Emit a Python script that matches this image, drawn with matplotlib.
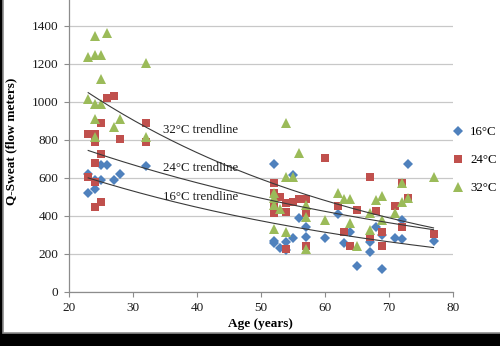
import numpy as np
import matplotlib
matplotlib.use("Agg")
import matplotlib.pyplot as plt
from matplotlib.patches import Rectangle

plt.rcParams['font.family'] = ['Liberation Serif', 'DejaVu Serif']

# Sweat output by age at three chamber temperatures
age_16 = [23, 23, 24, 24, 25, 25, 26, 27, 28, 32,
          52, 52, 52, 53, 54, 54, 55, 55, 56, 57, 57, 60, 62, 63, 64, 65,
          67, 67, 68, 69, 69, 71, 72, 72, 73, 77]
q_16 = [620, 520, 590, 540, 590, 665, 665, 590, 620, 660,
        670, 267, 255, 228, 263, 220, 614, 281, 386, 342, 290, 281, 407, 255, 312, 135,
        260, 207, 339, 298, 118, 281, 276, 377, 670, 267]

age_24 = [23, 24, 24, 25, 26, 27, 28, 32, 32, 25, 24, 23, 24, 24, 25,
          52, 52, 52, 52, 53, 54, 54, 54, 55, 56, 57, 57, 57, 60, 62, 63, 64, 65,
          67, 67, 68, 69, 69, 71, 72, 72, 73, 77]
q_24 = [830, 830, 790, 886, 1021, 1030, 804, 886, 790, 723, 676, 605, 575, 447, 474,
        570, 521, 456, 413, 500, 465, 421, 225, 474, 486, 486, 413, 240, 705, 451, 316, 240, 430,
        605, 290, 425, 316, 240, 453, 570, 342, 491, 304]

age_32 = [23, 24, 26, 24, 25, 25, 23, 24, 25, 24, 28, 27, 24, 32, 32,
          52, 52, 52, 52, 53, 54, 54, 54, 55, 56, 57, 57, 57, 60, 62, 63, 64, 64, 65,
          67, 67, 68, 69, 69, 71, 72, 72, 73, 77]
q_32 = [1234, 1345, 1360, 1246, 1246, 1120, 1013, 988, 988, 909, 909, 865, 813, 813, 1205,
        518, 491, 456, 328, 434, 886, 605, 316, 605, 732, 456, 395, 223, 377, 521, 486, 486, 363, 240,
        412, 325, 483, 504, 377, 412, 570, 470, 491, 602]

series_labels = ['16°C', '24°C', '32°C']
trend_labels = ['16°C trendline', '24°C trendline', '32°C trendline']
x_ticks = [20, 30, 40, 50, 60, 70, 80]
y_ticks = [0, 200, 400, 600, 800, 1000, 1200, 1400]

colors = ['#4F81BD', '#C0504D', '#9BBB59']
markers = ['D', 's', '^']
msizes = [5.2, 6.4, 7.0]

fig = plt.figure(figsize=(5.0, 3.46), dpi=100, facecolor='black')
# white chart area with a grey frame
fig.patches.append(Rectangle((3 / 500, 13 / 346), 1.2, 1.2, transform=fig.transFigure,
                             facecolor='white', edgecolor='#8c8c8c', linewidth=1.2,
                             zorder=-10))

ax = fig.add_axes([69 / 500, 1 - 291.7 / 346, (452.7 - 69) / 500, 291.7 / 346])
ax.set_facecolor('none')

data = [(age_16, q_16), (age_24, q_24), (age_32, q_32)]
for (xs, ys), c, m, s, lab in zip(data, colors, markers, msizes, series_labels):
    ax.plot(xs, ys, linestyle='none', marker=m, markersize=s, color=c,
            markeredgewidth=0, label=lab, zorder=3, clip_on=False)

# exponential trendlines fitted to each series
for xs, ys in data:
    xs = np.asarray(xs, float)
    ys = np.asarray(ys, float)
    b, ln_a = np.polyfit(xs, np.log(ys), 1)
    xx = np.linspace(xs.min(), xs.max(), 200)
    ax.plot(xx, np.exp(ln_a) * np.exp(b * xx), color='#3a3a3a', linewidth=0.8, zorder=4)

label_pos = [(34.7, 500), (34.7, 651), (34.7, 851)]
for (tx, ty), t in zip(label_pos, trend_labels):
    ax.text(tx, ty, t, fontsize=9.3, va='center', ha='left', color='#1a1a1a', zorder=5)

ax.set_xlim(20, 80)
ax.set_ylim(0, 1535)
ax.set_xticks(x_ticks)
ax.set_yticks(y_ticks)
ax.grid(axis='y', color='#c8c8c8', linewidth=0.9)
ax.set_axisbelow(True)
for side in ['top', 'right']:
    ax.spines[side].set_visible(False)
for side in ['left', 'bottom']:
    ax.spines[side].set_color('#8c8c8c')
    ax.spines[side].set_linewidth(0.9)
ax.tick_params(axis='both', direction='out', length=3.5, width=0.8, color='#8c8c8c',
               labelsize=9.5, labelcolor='#1a1a1a', pad=4)

ax.set_xlabel('Age (years)', fontsize=9.5, fontweight='bold', labelpad=3)
ax.set_ylabel('Q-Sweat (flow meters)', fontsize=9.5, fontweight='bold')
ax.yaxis.set_label_coords(-(69 - 17.5) / (452.7 - 69), (291.7 - 141) / 291.7)

ax.legend(loc='upper left', bbox_to_anchor=(451.5 / 500, 1 - 126 / 346),
          bbox_transform=fig.transFigure, frameon=False, fontsize=9.3,
          handlelength=1.0, handletextpad=0.45, labelspacing=1.25,
          borderpad=0, borderaxespad=0, numpoints=1)

fig.savefig('out.png', dpi=100, facecolor=fig.get_facecolor())
